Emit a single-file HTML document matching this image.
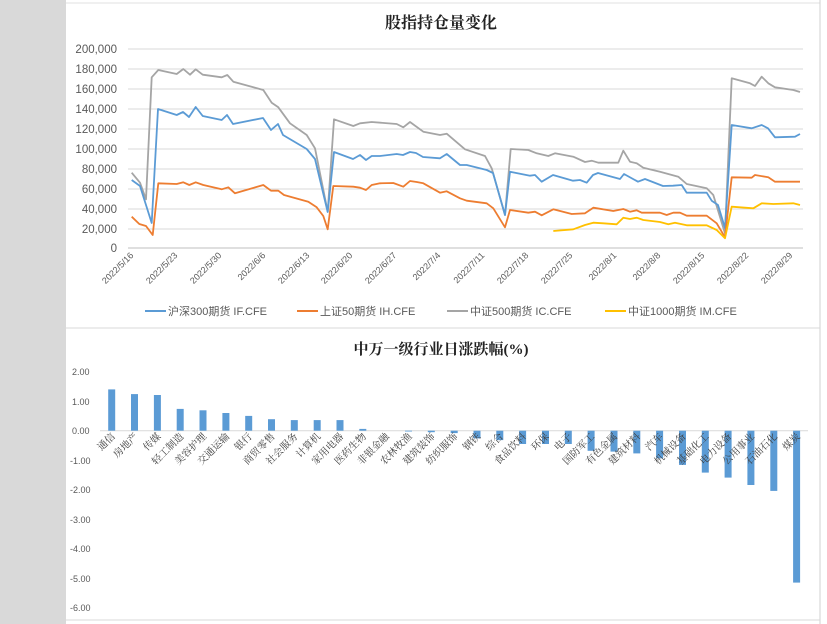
<!DOCTYPE html>
<html><head><meta charset="utf-8"><style>
html,body{margin:0;padding:0;width:827px;height:624px;overflow:hidden;background:#fff}
svg{display:block}
</style></head><body>
<svg width="827" height="624" xmlns="http://www.w3.org/2000/svg" font-family="'Liberation Sans','Noto Sans CJK SC',sans-serif">
<rect x="0" y="0" width="66" height="624" fill="#d9d9d9"/>
<rect x="66" y="0" width="761" height="624" fill="#fff"/>
<line x1="66" y1="3" x2="820" y2="3" stroke="#e0e0e0"/>
<line x1="820" y1="0" x2="820" y2="624" stroke="#d0d0d0"/>
<line x1="66" y1="328" x2="820" y2="328" stroke="#d9d9d9"/>
<line x1="66" y1="620" x2="820" y2="620" stroke="#d9d9d9"/>
<text x="441" y="28" text-anchor="middle" font-size="16" font-weight="bold" font-family="'Liberation Serif','Noto Serif CJK SC',serif" fill="#222">股指持仓量变化</text>
<g stroke="#d9d9d9" stroke-width="1">
<line x1="128" y1="49" x2="803" y2="49"/><line x1="128" y1="69" x2="803" y2="69"/>
<line x1="128" y1="89" x2="803" y2="89"/><line x1="128" y1="109" x2="803" y2="109"/>
<line x1="128" y1="129" x2="803" y2="129"/><line x1="128" y1="149" x2="803" y2="149"/>
<line x1="128" y1="169" x2="803" y2="169"/><line x1="128" y1="189" x2="803" y2="189"/>
<line x1="128" y1="209" x2="803" y2="209"/><line x1="128" y1="229" x2="803" y2="229"/>
<line x1="128" y1="248" x2="803" y2="248" stroke="#bfbfbf"/>
</g>
<g font-size="11.5" fill="#595959" text-anchor="end">
<text x="117" y="53">200,000</text><text x="117" y="73">180,000</text><text x="117" y="93">160,000</text>
<text x="117" y="113">140,000</text><text x="117" y="133">120,000</text><text x="117" y="153">100,000</text>
<text x="117" y="173">80,000</text><text x="117" y="193">60,000</text><text x="117" y="213">40,000</text>
<text x="117" y="233">20,000</text><text x="117" y="252">0</text>
</g>
<g font-size="9" fill="#595959" text-anchor="end">
<text transform="translate(134,256) rotate(-45)">2022/5/16</text>
<text transform="translate(178,256) rotate(-45)">2022/5/23</text>
<text transform="translate(222,256) rotate(-45)">2022/5/30</text>
<text transform="translate(266,256) rotate(-45)">2022/6/6</text>
<text transform="translate(310,256) rotate(-45)">2022/6/13</text>
<text transform="translate(353,256) rotate(-45)">2022/6/20</text>
<text transform="translate(397,256) rotate(-45)">2022/6/27</text>
<text transform="translate(441,256) rotate(-45)">2022/7/4</text>
<text transform="translate(485,256) rotate(-45)">2022/7/11</text>
<text transform="translate(529,256) rotate(-45)">2022/7/18</text>
<text transform="translate(573,256) rotate(-45)">2022/7/25</text>
<text transform="translate(617,256) rotate(-45)">2022/8/1</text>
<text transform="translate(661,256) rotate(-45)">2022/8/8</text>
<text transform="translate(705,256) rotate(-45)">2022/8/15</text>
<text transform="translate(749,256) rotate(-45)">2022/8/22</text>
<text transform="translate(793,256) rotate(-45)">2022/8/29</text>
</g>
<g fill="none" stroke-width="1.8" stroke-linejoin="round">
<polyline stroke="#a5a5a5" points="131.7,172.7 140,182.7 146,199.3 151.7,77.3 158.3,70 176.7,74 183.3,69 190,74.7 195.7,69.3 202.7,74.7 221.7,77.3 227.3,75 233.3,81.7 263.3,90 271.7,102.7 278.3,107.3 290,123.3 306.7,135 315,148.3 327.7,211.7 334,119.3 353.3,126 360,123.3 371.7,122 396.7,124 403.3,127.3 410,122 423.3,131.7 440,135 446.7,133.7 465,149.3 485,156 491.7,168.3 505,215 510.7,149 528.3,150 536.7,153.3 548.3,156 555,153.3 573.3,156.7 585,162 591.7,160.7 598.3,162.7 618.3,162.7 623.3,150.7 630,161.7 636.7,163.3 643.3,167.7 660,171.7 678.3,176.7 686.7,184 706.7,188.3 713.3,195 725,233.3 731.7,78.3 750,83.3 755,86 761.7,76.7 768.3,83.3 775,87.3 793.3,90 800,92"/>
<polyline stroke="#5b9bd5" points="131.7,180 140,186 151.7,223 158,109 176.7,115 183,112 189,117 195.7,107 202.7,116 221.7,120 227,115 233,124 263,118 271,130 278,124 283,135 306.7,149 315,159 327.7,212 334,152 353,159 360,155 366,160 371.7,156 380,156 396.7,154 403,155 410,152 416,153 423,157 440,158.3 446.7,154 460,165 466.7,165 486.7,170 493,173 505,215 510,171.7 530,175.7 535,175 541.7,181.7 553,175 573,180.7 580,180 586.7,182.7 593,175 598,173 620,179 624,174 638,181.7 645,179 663,186 673,185.7 681.7,185 686.7,192.7 706.7,192.7 711.7,200.7 718,205 725,228 731.7,125 751.7,128.3 761.7,125 768,128.3 775,137.3 795,136.7 800,134"/>
<polyline stroke="#ed7d31" points="131.7,216.7 139.3,224 146,226 152.7,235 158.3,183.3 176.7,184 183.3,182.3 189.3,185 195.7,182.3 203.3,185 221.7,189.3 228.3,187.3 235,193.3 263.3,185 271,190.7 278.3,190.7 284,195 308.3,201.7 316.7,207.3 323.3,216 327.7,229.3 333.3,186 353.3,186.7 360,187.7 366,190 371.7,185 380,183.3 393.3,183 403.3,186.7 410,181 416.7,182 423.3,183.3 440,192.7 446.7,191.3 460,198.3 466.7,200.7 486.7,203.3 493.3,208.3 505,227.3 510,210 528.3,212.7 535,211.7 541.7,215.3 553.3,209.3 571.7,214 585,213.3 593.3,207.7 613.3,211 623.3,209 630,211.7 636.7,210.3 641.7,212.7 660,212.7 666.7,215 673.3,212.7 680,212.7 686.7,215.7 706.7,215.7 716.7,223.3 725,237.3 731.7,177.3 751.7,177.7 755,175 768.3,177.3 775,181.7 800,181.7"/>
<polyline stroke="#ffc000" points="553.3,231 573.3,229.3 585,225 593.3,222.7 603.3,223.3 616.7,224.3 623.3,217.7 630,219 636.7,217.7 643.3,220 660,222 668.3,224.3 675,222.7 686.7,225.3 706.7,225.3 716.7,230 725,238.3 731.7,206.7 753.3,208.3 761.7,203.3 773.3,204 793.3,203.3 800,205"/>
</g>
<g font-size="11" fill="#595959">
<line x1="145" y1="311" x2="166" y2="311" stroke="#5b9bd5" stroke-width="2"/><text x="168" y="315">沪深300期货 IF.CFE</text>
<line x1="297" y1="311" x2="318" y2="311" stroke="#ed7d31" stroke-width="2"/><text x="320" y="315">上证50期货 IH.CFE</text>
<line x1="447" y1="311" x2="468" y2="311" stroke="#a5a5a5" stroke-width="2"/><text x="470" y="315">中证500期货 IC.CFE</text>
<line x1="605" y1="311" x2="626" y2="311" stroke="#ffc000" stroke-width="2"/><text x="628" y="315">中证1000期货 IM.CFE</text>
</g>
<text x="441" y="354" text-anchor="middle" font-size="15" font-weight="bold" font-family="'Liberation Serif','Noto Serif CJK SC',serif" fill="#222">中万一级行业日涨跌幅(%)</text>
<g font-size="9" fill="#595959">
<text x="72" y="375">2.00</text><text x="72" y="405">1.00</text><text x="72" y="434">0.00</text>
<text x="70" y="464">-1.00</text><text x="70" y="493">-2.00</text><text x="70" y="523">-3.00</text>
<text x="70" y="552">-4.00</text><text x="70" y="582">-5.00</text><text x="70" y="611">-6.00</text>
</g>
<line x1="100" y1="430.7" x2="808" y2="430.7" stroke="#d9d9d9"/>
<g fill="#5b9bd5">
<rect x="108.2" y="389.4" width="7" height="41.3"/>
<rect x="131" y="394.1" width="7" height="36.6"/>
<rect x="153.9" y="395" width="7" height="35.7"/>
<rect x="176.7" y="408.9" width="7" height="21.8"/>
<rect x="199.5" y="410.3" width="7" height="20.4"/>
<rect x="222.4" y="413" width="7" height="17.7"/>
<rect x="245.2" y="415.9" width="7" height="14.8"/>
<rect x="268" y="419.2" width="7" height="11.5"/>
<rect x="290.8" y="420.1" width="7" height="10.6"/>
<rect x="313.7" y="420.1" width="7" height="10.6"/>
<rect x="336.5" y="420.1" width="7" height="10.6"/>
<rect x="359.3" y="428.9" width="7" height="1.8"/>
<rect x="405" y="430.7" width="7" height="0.8"/>
<rect x="427.8" y="430.7" width="7" height="1.5"/>
<rect x="450.7" y="430.7" width="7" height="2.4"/>
<rect x="473.5" y="430.7" width="7" height="7.7"/>
<rect x="496.3" y="430.7" width="7" height="9.4"/>
<rect x="519.1" y="430.7" width="7" height="13.3"/>
<rect x="542" y="430.7" width="7" height="13.3"/>
<rect x="564.8" y="430.7" width="7" height="13.3"/>
<rect x="587.6" y="430.7" width="7" height="20.1"/>
<rect x="610.5" y="430.7" width="7" height="20.9"/>
<rect x="633.3" y="430.7" width="7" height="22.7"/>
<rect x="656.1" y="430.7" width="7" height="27.7"/>
<rect x="679" y="430.7" width="7" height="34.2"/>
<rect x="701.8" y="430.7" width="7" height="41.9"/>
<rect x="724.6" y="430.7" width="7" height="46.9"/>
<rect x="747.4" y="430.7" width="7" height="54.3"/>
<rect x="770.3" y="430.7" width="7" height="60.2"/>
<rect x="793.1" y="430.7" width="7" height="151.9"/>
</g>
<g font-size="10" fill="#404040" font-family="'Liberation Serif','Noto Serif CJK SC',serif" text-anchor="end">
<text transform="translate(115.7,437) rotate(-45)">通信</text>
<text transform="translate(138.5,437) rotate(-45)">房地产</text>
<text transform="translate(161.4,437) rotate(-45)">传媒</text>
<text transform="translate(184.2,437) rotate(-45)">轻工制造</text>
<text transform="translate(207,437) rotate(-45)">美容护理</text>
<text transform="translate(229.9,437) rotate(-45)">交通运输</text>
<text transform="translate(252.7,437) rotate(-45)">银行</text>
<text transform="translate(275.5,437) rotate(-45)">商贸零售</text>
<text transform="translate(298.3,437) rotate(-45)">社会服务</text>
<text transform="translate(321.2,437) rotate(-45)">计算机</text>
<text transform="translate(344,437) rotate(-45)">家用电器</text>
<text transform="translate(366.8,437) rotate(-45)">医药生物</text>
<text transform="translate(389.7,437) rotate(-45)">非银金融</text>
<text transform="translate(412.5,437) rotate(-45)">农林牧渔</text>
<text transform="translate(435.3,437) rotate(-45)">建筑装饰</text>
<text transform="translate(458.2,437) rotate(-45)">纺织服饰</text>
<text transform="translate(481,437) rotate(-45)">钢铁</text>
<text transform="translate(503.8,437) rotate(-45)">综合</text>
<text transform="translate(526.6,437) rotate(-45)">食品饮料</text>
<text transform="translate(549.5,437) rotate(-45)">环保</text>
<text transform="translate(572.3,437) rotate(-45)">电子</text>
<text transform="translate(595.1,437) rotate(-45)">国防军工</text>
<text transform="translate(618,437) rotate(-45)">有色金属</text>
<text transform="translate(640.8,437) rotate(-45)">建筑材料</text>
<text transform="translate(663.6,437) rotate(-45)">汽车</text>
<text transform="translate(686.5,437) rotate(-45)">机械设备</text>
<text transform="translate(709.3,437) rotate(-45)">基础化工</text>
<text transform="translate(732.1,437) rotate(-45)">电力设备</text>
<text transform="translate(754.9,437) rotate(-45)">公用事业</text>
<text transform="translate(777.8,437) rotate(-45)">石油石化</text>
<text transform="translate(800.6,437) rotate(-45)">煤炭</text>
</g>
</svg>
</body></html>
